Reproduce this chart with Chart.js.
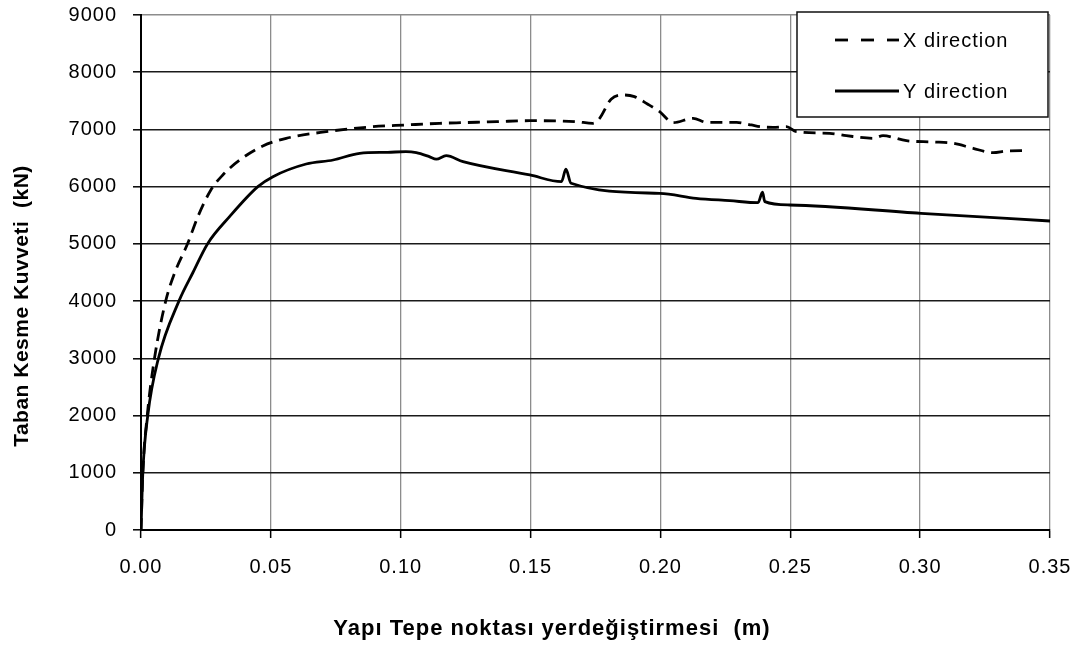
<!DOCTYPE html>
<html>
<head>
<meta charset="utf-8">
<script src="https://cdn.jsdelivr.net/npm/chart.js@4.4.1/dist/chart.umd.min.js"></script>
<style>
html,body{margin:0;padding:0;background:#fff;}
#wrap{width:1082px;height:653px;}
</style>
</head>
<body>
<div id="wrap"><canvas id="c" width="1082" height="653"></canvas></div>
<script>
// ---- data ----
const xDirDisp = [0, 0.0007, 0.0024, 0.0052, 0.0095, 0.0129, 0.018, 0.0219, 0.0269, 0.0315, 0.038, 0.0469, 0.0559, 0.0713, 0.0893, 0.102, 0.115, 0.125, 0.137, 0.1497, 0.1675, 0.174, 0.1766, 0.181, 0.1862, 0.19, 0.195, 0.1997, 0.2049, 0.2126, 0.2177, 0.2293, 0.235, 0.2383, 0.2434, 0.2485, 0.2523, 0.2652, 0.2716, 0.2819, 0.2857, 0.2947, 0.305, 0.3127, 0.3204, 0.3281, 0.3333, 0.341];
const xDirForce = [0, 1000, 2000, 3000, 4000, 4486, 5010, 5476, 5942, 6204, 6466, 6711, 6845, 6961, 7048, 7078, 7107, 7120, 7136, 7153, 7136, 7107, 7195, 7527, 7602, 7573, 7445, 7311, 7119, 7195, 7125, 7125, 7078, 7048, 7037, 7048, 6961, 6932, 6891, 6845, 6891, 6803, 6781, 6758, 6670, 6594, 6623, 6629];
const yDirDisp = [0, 0.0007, 0.0026, 0.0067, 0.0146, 0.02, 0.0256, 0.0341, 0.045, 0.0508, 0.0636, 0.074, 0.0842, 0.095, 0.102, 0.106, 0.111, 0.1137, 0.1175, 0.124, 0.1497, 0.1619, 0.1636, 0.1656, 0.1997, 0.2137, 0.2267, 0.2376, 0.2393, 0.2402, 0.2498, 0.3003, 0.35];
const yDirForce = [0, 1000, 2000, 3000, 4000, 4500, 5000, 5476, 6000, 6175, 6396, 6466, 6583, 6600, 6612, 6594, 6524, 6480, 6541, 6437, 6204, 6087, 6304, 6059, 5884, 5797, 5755, 5720, 5902, 5738, 5680, 5534, 5400];
const seriesNames = ['X direction', 'Y direction'];
const xTickValues = [0, 0.05, 0.10, 0.15, 0.20, 0.25, 0.30, 0.35];
const yTickValues = [0, 1000, 2000, 3000, 4000, 5000, 6000, 7000, 8000, 9000];
const xTitle = 'Yapı Tepe noktası yerdeğiştirmesi  (m)';
const yTitle = 'Taban Kesme Kuvveti  (kN)';

const toPts = (xs, ys) => xs.map((x, i) => ({x: x, y: ys[i]}));
const FONT = 'Liberation Sans, Arial, sans-serif';
const SPACING = '1px';

const spacingPlugin = {
  id: 'spacing',
  beforeLayout(chart) { chart.ctx.letterSpacing = SPACING; },
  beforeDraw(chart) { chart.ctx.letterSpacing = SPACING; }
};

const decorPlugin = {
  id: 'decor',
  afterDraw(chart) {
    const ctx = chart.ctx;
    const a = chart.chartArea;
    ctx.save();
    ctx.letterSpacing = SPACING;
    // legend
    const right = a.right - 2, left = right - 251, top = a.top - 3, bottom = top + 105;
    ctx.fillStyle = '#fff';
    ctx.fillRect(left, top, right - left, bottom - top);
    ctx.strokeStyle = '#111';
    ctx.lineWidth = 1.5;
    ctx.strokeRect(left, top, right - left, bottom - top);
    const rows = [{y: top + 28, dash: [13, 13]}, {y: top + 79, dash: []}];
    rows.forEach((r, i) => {
      ctx.beginPath();
      ctx.setLineDash(r.dash);
      ctx.lineWidth = 2.8;
      ctx.strokeStyle = '#000';
      ctx.moveTo(left + 38, r.y);
      ctx.lineTo(left + 102, r.y);
      ctx.stroke();
      ctx.setLineDash([]);
      ctx.fillStyle = '#000';
      ctx.font = '20px ' + FONT;
      ctx.textBaseline = 'middle';
      ctx.textAlign = 'left';
      ctx.fillText(seriesNames[i], left + 106, r.y + 1);
    });
    // axis titles
    ctx.fillStyle = '#000';
    ctx.textAlign = 'center';
    ctx.textBaseline = 'middle';
    ctx.font = 'bold 22px ' + FONT;
    ctx.fillText(xTitle, 552, 629);
    ctx.letterSpacing = '0.5px';
    ctx.font = 'bold 21px ' + FONT;
    ctx.translate(22, 306);
    ctx.rotate(-Math.PI / 2);
    ctx.fillText(yTitle, 0, 0);
    ctx.restore();
  }
};

new Chart(document.getElementById('c'), {
  type: 'line',
  data: {
    datasets: [
      {label: seriesNames[0], data: toPts(xDirDisp, xDirForce), borderColor: '#000', borderWidth: 2.8, borderDash: [12, 7], pointRadius: 0, fill: false, cubicInterpolationMode: 'monotone'},
      {label: seriesNames[1], data: toPts(yDirDisp, yDirForce), borderColor: '#000', borderWidth: 2.8, pointRadius: 0, fill: false, cubicInterpolationMode: 'monotone'}
    ]
  },
  options: {
    responsive: false,
    animation: false,
    layout: {padding: {left: 0, right: 32, top: 15, bottom: 0}},
    plugins: {legend: {display: false}, tooltip: {enabled: false}},
    scales: {
      x: {
        type: 'linear', min: 0, max: 0.35,
        afterBuildTicks: s => { s.ticks = xTickValues.map(v => ({value: v})); },
        afterFit: s => { s.height = 123; s.paddingLeft = 0; s.paddingRight = 0; },
        ticks: {callback: v => Number(v).toFixed(2), color: '#000', font: {family: FONT, size: 20}, padding: 17, maxRotation: 0, autoSkip: false},
        grid: {color: '#8c8c8c', lineWidth: 1.3, tickLength: 8, tickColor: '#000', tickWidth: 1.5},
        border: {display: true, color: '#000', width: 2},
        title: {display: false, text: xTitle}
      },
      y: {
        type: 'linear', min: 0, max: 9000,
        afterBuildTicks: s => { s.ticks = yTickValues.map(v => ({value: v})); },
        afterFit: s => { s.width = 141; s.paddingTop = 0; s.paddingBottom = 0; },
        ticks: {callback: v => String(v), color: '#000', font: {family: FONT, size: 20}, padding: 16, autoSkip: false},
        grid: {color: ctx => (ctx.tick && ctx.tick.value >= 9000) ? '#8c8c8c' : '#1a1a1a', lineWidth: 1.6, tickLength: 8, tickColor: '#000', tickWidth: 1.5},
        border: {display: true, color: '#000', width: 2},
        title: {display: false, text: yTitle}
      }
    }
  },
  plugins: [spacingPlugin, decorPlugin]
});
</script>
</body>
</html>
